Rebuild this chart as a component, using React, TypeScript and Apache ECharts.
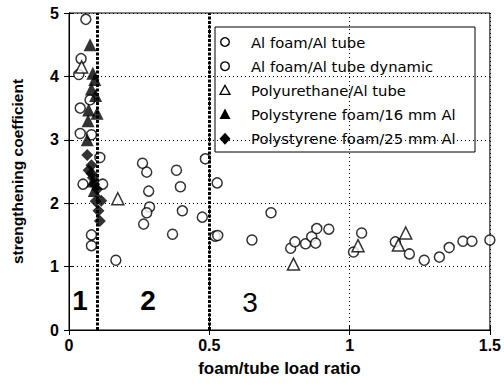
import React, { useEffect, useRef } from "react";
import * as echarts from "echarts";

const xTicks = [0, 0.5, 1, 1.5];
const yTicks = [0, 1, 2, 3, 4, 5];
const regionBounds = [0.1, 0.5];

const seriesNames = [
  "Al foam/Al tube",
  "Al foam/Al tube dynamic",
  "Polyurethane/Al tube",
  "Polystyrene foam/16 mm Al",
  "Polystyrene foam/25 mm Al",
];

const alFoamTube = [
  [0.06, 4.9], [0.043, 4.28], [0.035, 4.03], [0.075, 3.63], [0.04, 3.5], [0.04, 3.1],
  [0.08, 3.08], [0.11, 2.72], [0.05, 2.3], [0.12, 2.3], [0.08, 1.5], [0.08, 1.33],
  [0.167, 1.1], [0.262, 2.63], [0.277, 2.49], [0.383, 2.52], [0.486, 2.7], [0.284, 2.19],
  [0.397, 2.26], [0.528, 2.32], [0.287, 1.94], [0.277, 1.85], [0.404, 1.88], [0.475, 1.78],
  [0.266, 1.67], [0.369, 1.51], [0.521, 1.48], [0.53, 1.49], [0.652, 1.42], [0.72, 1.85],
  [0.79, 1.29], [0.843, 1.36], [0.865, 1.47], [0.926, 1.59], [1.014, 1.23], [1.043, 1.53],
  [1.163, 1.39], [1.213, 1.2], [1.266, 1.1], [1.32, 1.15], [1.355, 1.3], [1.404, 1.4],
  [1.436, 1.4], [1.5, 1.42],
];
const alFoamTubeDynamic = [[0.805, 1.39], [0.879, 1.37], [0.883, 1.6]];
const polyurethane = [[0.045, 4.15], [0.174, 2.07], [0.8, 1.04], [1.03, 1.33], [1.174, 1.34], [1.2, 1.53]];
const polystyrene16 = [
  [0.075, 4.5], [0.085, 4.05], [0.092, 3.95], [0.08, 3.8], [0.095, 3.7], [0.07, 3.47],
  [0.1, 3.42], [0.068, 3.3], [0.065, 3.0], [0.085, 2.35], [0.09, 2.2],
];
const polystyrene25 = [
  [0.065, 2.76], [0.07, 2.52], [0.08, 2.6], [0.08, 2.47], [0.085, 2.4], [0.09, 2.3],
  [0.1, 2.22], [0.095, 2.03], [0.115, 2.04], [0.105, 1.88], [0.11, 1.72],
];

const regionLabels = ["1", "2", "3"];

export default function App() {
  const ref = useRef<HTMLDivElement>(null);
  useEffect(() => {
    if (!ref.current) return;
    const chart = echarts.init(ref.current, null, { renderer: "svg" });
    const font = "Liberation Sans, Arial, sans-serif";
    const openStyle = { color: "#fff", borderColor: "#000", borderWidth: 1.5 };
    const filledStyle = { color: "#000", borderColor: "#000", borderWidth: 0 };
    const legendFont = "DejaVu Sans, sans-serif";
    const lx = 215, ly = 27, lw = 260, lh = 125;
    const rowY = (i: number) => ly + 15 + i * 24.2;
    const mx = 225, tx = 251;
    const legendMarkers: any[] = [
      { type: "circle", shape: { cx: mx, cy: rowY(0), r: 4.3 }, style: { fill: "#fff", stroke: "#000", lineWidth: 1.4 } },
      { type: "circle", shape: { cx: mx, cy: rowY(1), r: 4.3 }, style: { fill: "#fff", stroke: "#000", lineWidth: 1.4 } },
      { type: "polygon", shape: { points: [[mx, rowY(2) - 5], [mx - 5, rowY(2) + 4], [mx + 5, rowY(2) + 4]] }, style: { fill: "#fff", stroke: "#000", lineWidth: 1.3 } },
      { type: "polygon", shape: { points: [[mx, rowY(3) - 6], [mx - 5.5, rowY(3) + 4.5], [mx + 5.5, rowY(3) + 4.5]] }, style: { fill: "#000" } },
      { type: "polygon", shape: { points: [[mx, rowY(4) - 6], [mx + 5.5, rowY(4)], [mx, rowY(4) + 6], [mx - 5.5, rowY(4)]] }, style: { fill: "#000" } },
    ];
    const legendTexts = seriesNames.map((n, i) => ({
      type: "text",
      x: tx,
      y: rowY(i),
      style: { text: n, fill: "#000", font: `14.8px ${legendFont}`, textVerticalAlign: "middle", textAlign: "left" },
    }));
    const regionPos = [[80, 300, "bold"], [148, 300, "bold"], [250, 302, "normal"]];
    const regionTexts = regionLabels.map((t, i) => ({
      type: "text",
      x: regionPos[i][0] as number,
      y: regionPos[i][1] as number,
      style: {
        text: t,
        fill: "#000",
        font: `${regionPos[i][2]} 28px ${font}`,
        textAlign: "center",
        textVerticalAlign: "middle",
      },
    }));

    const axisCommon = {
      min: 0,
      axisLine: { show: true, lineStyle: { color: "#000", width: 1 } },
      axisTick: { show: true, inside: true, length: 5, lineStyle: { color: "#000" } },
    };

    chart.setOption({
      animation: false,
      backgroundColor: "#fff",
      grid: { left: 69, right: 12, top: 13, bottom: 57, show: true, borderColor: "#000", borderWidth: 1 },
      xAxis: [
        {
          ...axisCommon,
          type: "value",
          max: 1.5,
          interval: 0.5,
          name: "foam/tube load ratio",
          nameLocation: "middle",
          nameGap: 30,
          nameTextStyle: { fontFamily: font, fontWeight: "bold", fontSize: 17, color: "#000" },
          axisLabel: {
            color: "#000",
            fontFamily: font,
            fontWeight: "bold",
            fontSize: 16,
            margin: 7,
            formatter: (v: number) => (xTicks.includes(v) ? String(v) : ""),
          },
          splitLine: { show: true, lineStyle: { color: "#000", type: [1, 3], width: 1 } },
        },
        {
          ...axisCommon,
          type: "value",
          max: 1.5,
          interval: 0.5,
          position: "top",
          axisLabel: { show: false },
          splitLine: { show: false },
        },
      ],
      yAxis: [
        {
          ...axisCommon,
          type: "value",
          max: 5,
          interval: 1,
          name: "strengthening coefficient",
          nameLocation: "middle",
          nameGap: 44,
          nameTextStyle: { fontFamily: font, fontWeight: "bold", fontSize: 15.5, color: "#000" },
          axisLabel: {
            color: "#000",
            fontFamily: font,
            fontWeight: "bold",
            fontSize: 16,
            margin: 10,
            formatter: (v: number) => (yTicks.includes(v) ? String(v) : ""),
          },
          splitLine: { show: true, lineStyle: { color: "#000", type: [1, 3], width: 1 } },
        },
        {
          ...axisCommon,
          type: "value",
          max: 5,
          interval: 1,
          position: "right",
          axisLabel: { show: false },
          splitLine: { show: false },
        },
      ],
      series: [
        {
          name: "bounds",
          type: "scatter",
          data: [],
          z: 1,
          markLine: {
            silent: true,
            symbol: "none",
            label: { show: false },
            lineStyle: { color: "#000", type: [3, 1.5], width: 3 },
            data: regionBounds.map((x) => ({ xAxis: x })),
          },
        },
        { name: seriesNames[0], type: "scatter", symbol: "circle", symbolSize: 10, itemStyle: openStyle, data: alFoamTube, z: 3 },
        { name: seriesNames[1], type: "scatter", symbol: "circle", symbolSize: 10, itemStyle: openStyle, data: alFoamTubeDynamic, z: 3 },
        { name: seriesNames[2], type: "scatter", symbol: "triangle", symbolSize: 12, itemStyle: openStyle, data: polyurethane, z: 3 },
        { name: seriesNames[3], type: "scatter", symbol: "triangle", symbolSize: 13, itemStyle: filledStyle, data: polystyrene16, z: 4 },
        { name: seriesNames[4], type: "scatter", symbol: "diamond", symbolSize: 12, itemStyle: filledStyle, data: polystyrene25, z: 5 },
      ],
      graphic: [
        {
          type: "group",
          z: 100,
          children: [
            { type: "rect", shape: { x: lx, y: ly, width: lw, height: lh }, style: { fill: "#fff", stroke: "#000", lineWidth: 1 } },
            ...legendMarkers,
            ...legendTexts,
          ],
        },
        ...regionTexts,
      ],
    });
    return () => chart.dispose();
  }, []);
  return <div ref={ref} style={{ position: "fixed", left: 0, top: 0, width: 504, height: 387 }} />;
}
